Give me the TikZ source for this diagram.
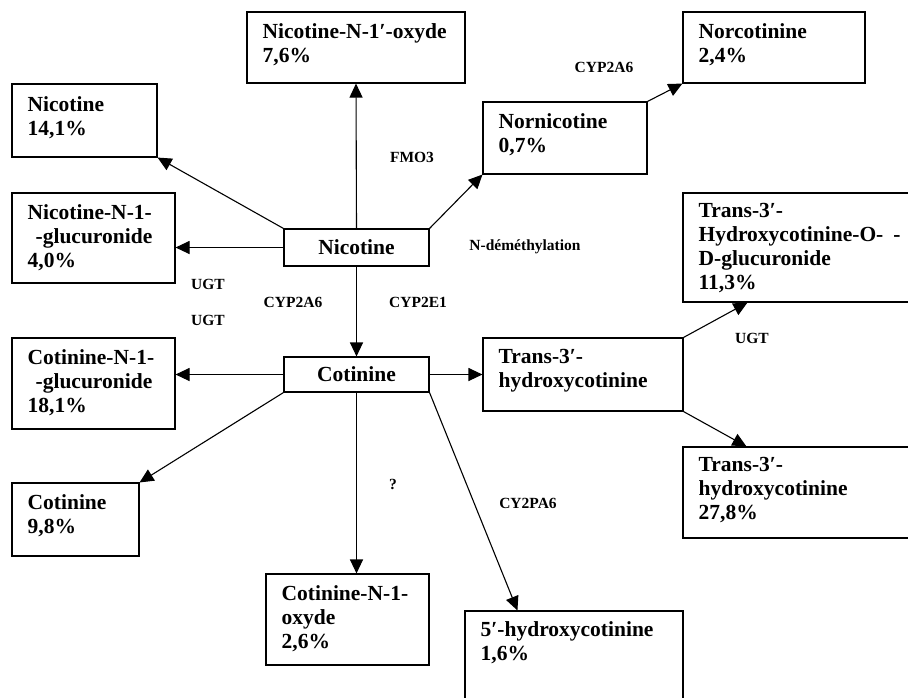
\documentclass[tikz,border=0pt]{standalone}
\usepackage{fontspec}
\setmainfont{Liberation Serif}
\usetikzlibrary{arrows.meta, positioning}

\begin{document}
\begin{tikzpicture}[x=1pt, y=-1pt,
    cbox/.style={rectangle, draw, line width=1.1pt, inner sep=0pt, font=\fontsize{21.5}{24}\selectfont\bfseries},
    txt/.style={anchor=north west, align=left, inner sep=0pt, font=\fontsize{21.5}{24}\selectfont\bfseries,
        execute at begin node={\rule{0pt}{15pt}}},
    enz/.style={inner sep=0pt, font=\fontsize{15.5}{18}\selectfont\bfseries},
    conv/.style={line width=1.1pt, -{Triangle[length=14pt, width=13pt]}}
]
    \useasboundingbox (0,0) rectangle (908,697);
    \clip (0,0) rectangle (908,697);
    \fill[white] (0,0) rectangle (908,697);

    % boxes
    \node[cbox, minimum width=145pt, minimum height=37pt] (nic) at (356.5,247.5) {Nicotine};
    \node[cbox, minimum width=145pt, minimum height=35pt] (cot) at (356.5,374.5) {Cotinine};
    \node[cbox, minimum width=218pt, minimum height=71pt] (oxyde) at (356,47.5) {};
    \node[cbox, minimum width=145pt, minimum height=73pt] (nicfree) at (84.5,120.5) {};
    \node[cbox, minimum width=163pt, minimum height=90pt] (nicgluc) at (93.5,238) {};
    \node[cbox, minimum width=164pt, minimum height=72pt] (nornic) at (565,138) {};
    \node[cbox, minimum width=182pt, minimum height=71pt] (norcot) at (774,47.5) {};
    \node[cbox, minimum width=163pt, minimum height=91pt] (cotgluc) at (93.5,383.5) {};
    \node[cbox, minimum width=127pt, minimum height=73pt] (cotfree) at (75.5,519.5) {};
    \node[cbox, minimum width=163pt, minimum height=91pt] (cotoxyde) at (347.5,619.5) {};
    \node[cbox, minimum width=218pt, minimum height=109pt] (hydroxy) at (574,665.5) {};
    \node[cbox, minimum width=200pt, minimum height=73pt] (trans) at (583,374.5) {};
    \node[cbox, minimum width=237pt, minimum height=109pt] (transgluc) at (801.5,247.5) {};
    \node[cbox, minimum width=237pt, minimum height=91pt] (transfree) at (801.5,492.5) {};

    % box texts
    \node[txt] (toxyde) at ([shift={(16pt,-12pt)}]oxyde.north west) {Nicotine-N-1′-oxyde\\7,6\%};
    \node[txt] (tnicfree) at ([shift={(16pt,-13pt)}]nicfree.north west) {Nicotine\\14,1\%};
    \node[txt] (tnicgluc) at ([shift={(16pt,-12pt)}]nicgluc.north west) {Nicotine-N-1-\\\hspace{8pt}-glucuronide\\4,0\%};
    \node[txt] (tnornic) at ([shift={(16pt,-12pt)}]nornic.north west) {Nornicotine\\0,7\%};
    \node[txt] (tnorcot) at ([shift={(16pt,-12pt)}]norcot.north west) {Norcotinine\\2,4\%};
    \node[txt] (tcotgluc) at ([shift={(16pt,-12pt)}]cotgluc.north west) {Cotinine-N-1-\\\hspace{8pt}-glucuronide\\18,1\%};
    \node[txt] (tcotfree) at ([shift={(16pt,-12pt)}]cotfree.north west) {Cotinine\\9,8\%};
    \node[txt] (tcotoxyde) at ([shift={(16pt,-12pt)}]cotoxyde.north west) {Cotinine-N-1-\\oxyde\\2,6\%};
    \node[txt] (thydroxy) at ([shift={(16pt,-11pt)}]hydroxy.north west) {5′-hydroxycotinine\\1,6\%};
    \node[txt] (ttrans) at ([shift={(16pt,-12pt)}]trans.north west) {Trans-3′-\\hydroxycotinine};
    \node[txt] (ttransgluc) at ([shift={(16pt,-11pt)}]transgluc.north west) {Trans-3′-\\Hydroxycotinine-O-\hspace{10pt}-\\D-glucuronide\\11,3\%};
    \node[txt] (ttransfree) at ([shift={(16pt,-11pt)}]transfree.north west) {Trans-3′-\\hydroxycotinine\\27,8\%};

    % enzymes
    \node[enz] (fmo) at (412,157) {FMO3};
    \node[enz] (cypa) at (604,67) {CYP2A6};
    \node[enz] (demeth) at (525,247) {N-déméthylation};
    \node[enz] (ugta) at (208,284) {UGT};
    \node[enz] (cypb) at (293,302) {CYP2A6};
    \node[enz] (cype) at (418,302) {CYP2E1};
    \node[enz] (ugtb) at (208,320) {UGT};
    \node[enz] (ugtc) at (752,338) {UGT};
    \node[enz] (unk) at (393,484) {?};
    \node[enz] (cypc) at (528,503) {CY2PA6};

    % conversions
    \draw[conv] (nic.north) -- (oxyde.south);
    \draw[conv] (nic.north west) -- (nicfree.south east);
    \draw[conv] (nic.west) -- (nic.west -| nicgluc.east);
    \draw[conv] (nic.north east) -- (nornic.south west);
    \draw[conv] (nornic.north east) -- (norcot.south west);
    \draw[conv] (nic.south) -- (cot.north);
    \draw[conv] (cot.west) -- (cot.west -| cotgluc.east);
    \draw[conv] (cot.east) -- (trans.west);
    \draw[conv] (cot.south west) -- (cotfree.north east);
    \draw[conv] (cot.south) -- (cot.south |- cotoxyde.north);
    \draw[conv] (cot.south east) -- ([xshift=53pt]hydroxy.north west);
    \draw[conv] (trans.north east) -- ([xshift=65pt]transgluc.south west);
    \draw[conv] (trans.south east) -- ([xshift=64pt]transfree.north west);
\end{tikzpicture}
\end{document}
